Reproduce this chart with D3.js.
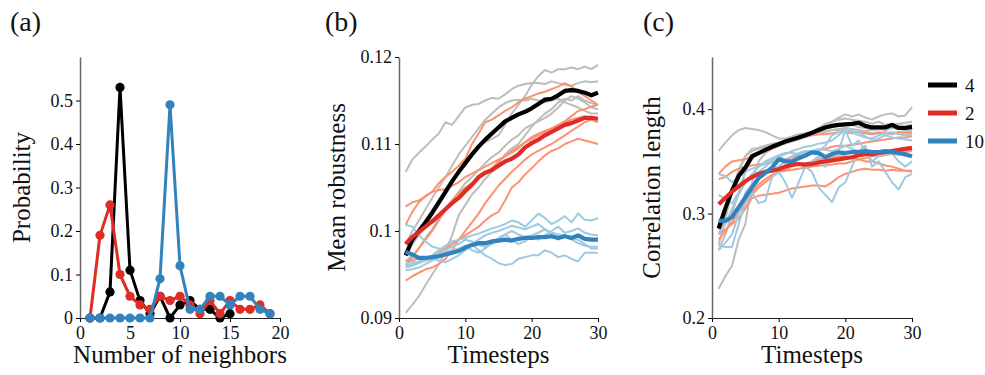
<!DOCTYPE html>
<html>
<head>
<meta charset="utf-8">
<script src="https://cdn.jsdelivr.net/npm/d3@7"></script>
<style>
body { margin: 0; background: #fff; }
text { font-family: "Liberation Serif", "Times New Roman", serif; fill: #111; }
</style>
</head>
<body>
<svg id="fig" width="985" height="375"></svg>
<script>
// ---- data ----
const groups = ["4", "2", "10"];

// (a) degree distribution
const neighbors = d3.range(1, 20);
const prob4  = [0, 0, 0.06, 0.53, 0.11, 0.04, 0.01, 0.05, 0, 0.03, 0.04, 0.02, 0.02, 0, 0.01];
const prob2  = [0, 0.19, 0.26, 0.10, 0.05, 0.03, 0.02, 0.05, 0.04, 0.05, 0.03, 0.01, 0.04, 0.01, 0.04, 0.02, 0.02, 0.03, 0.01];
const prob10 = [0, 0, 0, 0, 0, 0, 0, 0.09, 0.49, 0.12, 0.02, 0.02, 0.05, 0.05, 0.03, 0.05, 0.05, 0.02, 0.01];

const timesteps = d3.range(1, 31);

// (b) mean robustness, means
const rob4  = [0.0972,0.0990,0.1000,0.1010,0.1021,0.1033,0.1045,0.1057,0.1068,0.1078,0.1088,0.1097,0.1105,0.1112,0.1119,0.1126,0.1130,0.1134,0.1137,0.1141,0.1146,0.1151,0.1152,0.1156,0.1161,0.1162,0.1161,0.1159,0.1156,0.1159];
const rob2  = [0.0985,0.0993,0.0999,0.1005,0.1011,0.1018,0.1025,0.1032,0.1038,0.1046,0.1053,0.1062,0.1067,0.1070,0.1075,0.1080,0.1083,0.1088,0.1096,0.1101,0.1105,0.1110,0.1114,0.1118,0.1122,0.1124,0.1127,0.1130,0.1130,0.1129];
const rob10 = [0.0976,0.0973,0.0969,0.0969,0.0970,0.0971,0.0973,0.0975,0.0977,0.0981,0.0984,0.0986,0.0986,0.0988,0.0989,0.0990,0.0989,0.0991,0.0992,0.0992,0.0993,0.0993,0.0994,0.0992,0.0994,0.0992,0.0995,0.0991,0.0990,0.0990];

// (b) individual runs
const robRuns4 = [
  [0.1068,0.1082,0.1090,0.1097,0.1105,0.1112,0.1125,0.1122,0.1132,0.1142,0.1145,0.1146,0.1150,0.1153,0.1152,0.1157,0.1163,0.1167,0.1169,0.1170,0.1170,0.1169,0.1172,0.1170,0.1168,0.1167,0.1170,0.1172,0.1171,0.1172],
  [0.0975,0.0985,0.0995,0.1005,0.1018,0.1030,0.1042,0.1055,0.1068,0.1080,0.1090,0.1098,0.1102,0.1106,0.1110,0.1122,0.1135,0.1145,0.1155,0.1168,0.1178,0.1185,0.1182,0.1186,0.1186,0.1188,0.1186,0.1189,0.1186,0.1191],
  [0.0906,0.0915,0.0925,0.0938,0.0950,0.0962,0.0976,0.0995,0.1018,0.1030,0.1042,0.1050,0.1060,0.1068,0.1078,0.1088,0.1095,0.1100,0.1110,0.1120,0.1128,0.1135,0.1140,0.1148,0.1152,0.1150,0.1155,0.1150,0.1147,0.1145],
  [0.0985,0.1000,0.1012,0.1025,0.1038,0.1050,0.1062,0.1075,0.1088,0.1098,0.1108,0.1118,0.1128,0.1135,0.1142,0.1147,0.1150,0.1151,0.1150,0.1152,0.1150,0.1148,0.1150,0.1152,0.1148,0.1145,0.1142,0.1138,0.1135,0.1135],
  [0.0965,0.0972,0.0980,0.0992,0.1002,0.1015,0.1025,0.1035,0.1045,0.1055,0.1062,0.1070,0.1078,0.1085,0.1090,0.1098,0.1105,0.1110,0.1118,0.1122,0.1126,0.1130,0.1135,0.1142,0.1150,0.1155,0.1152,0.1148,0.1142,0.1140]
];
const robRuns2 = [
  [0.1028,0.1033,0.1035,0.1040,0.1045,0.1055,0.1062,0.1068,0.1075,0.1083,0.1100,0.1112,0.1125,0.1128,0.1133,0.1138,0.1142,0.1148,0.1152,0.1155,0.1158,0.1160,0.1163,0.1166,0.1170,0.1166,0.1160,0.1155,0.1150,0.1145],
  [0.1007,0.1022,0.1033,0.1040,0.1045,0.1047,0.1048,0.1052,0.1056,0.1062,0.1066,0.1070,0.1074,0.1078,0.1082,0.1086,0.1090,0.1095,0.1102,0.1108,0.1112,0.1115,0.1118,0.1122,0.1125,0.1128,0.1130,0.1132,0.1128,0.1125],
  [0.0960,0.0970,0.0980,0.0990,0.1000,0.1012,0.1024,0.1035,0.1043,0.1050,0.1055,0.1060,0.1066,0.1072,0.1080,0.1086,0.1092,0.1097,0.1102,0.1106,0.1110,0.1114,0.1118,0.1122,0.1126,0.1132,0.1138,0.1140,0.1143,0.1145],
  [0.0943,0.0948,0.0952,0.0956,0.0958,0.0962,0.0968,0.0978,0.0990,0.1000,0.1010,0.1020,0.1032,0.1042,0.1052,0.1060,0.1068,0.1075,0.1082,0.1088,0.1092,0.1096,0.1100,0.1105,0.1110,0.1115,0.1120,0.1125,0.1128,0.1130],
  [0.0965,0.0967,0.0968,0.0969,0.0970,0.0975,0.0980,0.0985,0.0990,0.0995,0.1000,0.1005,0.1012,0.1018,0.1022,0.1035,0.1050,0.1056,0.1065,0.1072,0.1080,0.1087,0.1092,0.1095,0.1100,0.1103,0.1106,0.1104,0.1102,0.1100]
];
const robRuns10 = [
  [0.1007,0.1005,0.0995,0.0988,0.0982,0.0980,0.0978,0.0982,0.0985,0.0990,0.0988,0.0984,0.0982,0.0985,0.0990,0.0996,0.1000,0.0996,0.0993,0.0995,0.0998,0.1002,0.0996,0.0990,0.0995,0.0990,0.0986,0.0983,0.0982,0.0982],
  [0.0960,0.0962,0.0965,0.0968,0.0972,0.0978,0.0983,0.0988,0.0990,0.0992,0.0995,0.0997,0.1000,0.1003,0.1005,0.1008,0.1012,0.1010,0.1005,0.1012,0.1020,0.1015,0.1008,0.1012,0.1017,0.1010,0.1020,0.1013,0.1012,0.1015],
  [0.0955,0.0956,0.0958,0.0962,0.0966,0.0970,0.0972,0.0975,0.0978,0.0982,0.0985,0.0978,0.0972,0.0968,0.0963,0.0961,0.0962,0.0968,0.0970,0.0972,0.0972,0.0978,0.0975,0.0970,0.0972,0.0968,0.0965,0.0975,0.0975,0.0975],
  [0.0958,0.0960,0.0963,0.0966,0.0968,0.0966,0.0964,0.0968,0.0972,0.0978,0.0985,0.0990,0.0995,0.0998,0.1000,0.1003,0.1006,0.1004,0.1002,0.1005,0.1008,0.1002,0.0998,0.0996,0.0995,0.0992,0.0990,0.0985,0.0980,0.0980],
  [0.0962,0.0965,0.0964,0.0966,0.0970,0.0974,0.0976,0.0978,0.0980,0.0983,0.0978,0.0975,0.0980,0.0986,0.0992,0.0996,0.0990,0.0985,0.0988,0.0994,0.0990,0.0995,0.1000,0.1005,0.0998,0.1000,0.1003,0.0998,0.0996,0.0995]
];

// (c) correlation length, means
const corr4  = [0.2857,0.305,0.322,0.336,0.344,0.355,0.358,0.361,0.364,0.3665,0.369,0.371,0.373,0.375,0.3775,0.380,0.3825,0.384,0.385,0.3855,0.386,0.387,0.384,0.3825,0.3825,0.3825,0.385,0.382,0.382,0.383];
const corr2  = [0.309,0.315,0.321,0.326,0.331,0.335,0.338,0.340,0.341,0.3425,0.345,0.347,0.3475,0.347,0.3475,0.349,0.350,0.351,0.352,0.353,0.354,0.356,0.357,0.357,0.358,0.359,0.360,0.361,0.362,0.363];
const corr10 = [0.2933,0.293,0.2965,0.306,0.3155,0.325,0.334,0.339,0.344,0.352,0.350,0.350,0.353,0.3555,0.3587,0.358,0.354,0.357,0.3587,0.358,0.359,0.359,0.360,0.359,0.359,0.360,0.359,0.358,0.3567,0.355];

// (c) individual runs
const corrRuns4 = [
  [0.360,0.368,0.375,0.380,0.382,0.381,0.380,0.378,0.375,0.372,0.372,0.374,0.376,0.377,0.378,0.382,0.386,0.388,0.392,0.395,0.393,0.395,0.392,0.390,0.393,0.395,0.396,0.393,0.394,0.402],
  [0.228,0.240,0.250,0.275,0.290,0.330,0.350,0.358,0.362,0.365,0.368,0.370,0.373,0.375,0.378,0.382,0.385,0.388,0.390,0.391,0.390,0.389,0.388,0.386,0.388,0.385,0.386,0.385,0.384,0.385],
  [0.270,0.295,0.320,0.340,0.355,0.360,0.362,0.364,0.366,0.368,0.370,0.372,0.374,0.376,0.378,0.380,0.382,0.384,0.385,0.386,0.385,0.383,0.382,0.380,0.381,0.383,0.385,0.386,0.387,0.388],
  [0.280,0.300,0.322,0.342,0.355,0.362,0.363,0.365,0.367,0.368,0.370,0.372,0.373,0.375,0.376,0.378,0.379,0.380,0.380,0.380,0.379,0.378,0.378,0.377,0.378,0.377,0.376,0.378,0.377,0.376],
  [0.265,0.280,0.300,0.320,0.340,0.352,0.358,0.362,0.364,0.366,0.367,0.369,0.371,0.373,0.375,0.376,0.378,0.380,0.381,0.382,0.381,0.380,0.379,0.380,0.381,0.380,0.382,0.381,0.380,0.380]
];
const corrRuns2 = [
  [0.338,0.345,0.350,0.351,0.352,0.355,0.358,0.360,0.362,0.365,0.368,0.372,0.373,0.374,0.375,0.376,0.376,0.377,0.378,0.378,0.377,0.378,0.377,0.376,0.377,0.378,0.377,0.378,0.378,0.378],
  [0.333,0.335,0.340,0.343,0.345,0.346,0.347,0.348,0.349,0.350,0.352,0.354,0.356,0.358,0.360,0.361,0.362,0.364,0.365,0.365,0.366,0.367,0.368,0.369,0.370,0.371,0.372,0.373,0.373,0.374],
  [0.275,0.283,0.292,0.300,0.310,0.318,0.325,0.330,0.335,0.340,0.342,0.345,0.347,0.348,0.350,0.352,0.353,0.354,0.355,0.355,0.353,0.352,0.350,0.350,0.348,0.346,0.345,0.343,0.341,0.340],
  [0.280,0.285,0.290,0.295,0.305,0.315,0.317,0.318,0.319,0.320,0.322,0.324,0.325,0.326,0.327,0.327,0.326,0.330,0.335,0.338,0.340,0.342,0.343,0.342,0.342,0.341,0.342,0.341,0.341,0.341],
  [0.285,0.292,0.300,0.306,0.312,0.320,0.328,0.333,0.337,0.340,0.341,0.342,0.343,0.344,0.345,0.346,0.346,0.347,0.348,0.348,0.350,0.352,0.353,0.355,0.355,0.356,0.357,0.358,0.359,0.360]
];
const corrRuns10 = [
  [0.338,0.336,0.330,0.335,0.340,0.343,0.345,0.348,0.352,0.355,0.357,0.360,0.362,0.364,0.365,0.367,0.368,0.370,0.375,0.380,0.378,0.375,0.373,0.372,0.375,0.377,0.378,0.376,0.375,0.375],
  [0.318,0.314,0.310,0.320,0.330,0.335,0.340,0.345,0.350,0.355,0.352,0.350,0.347,0.345,0.340,0.325,0.318,0.311,0.325,0.330,0.345,0.360,0.365,0.345,0.350,0.340,0.330,0.323,0.335,0.338],
  [0.270,0.268,0.268,0.290,0.310,0.320,0.310,0.312,0.335,0.340,0.330,0.315,0.330,0.345,0.350,0.355,0.345,0.355,0.360,0.380,0.365,0.370,0.360,0.350,0.355,0.360,0.358,0.350,0.345,0.350],
  [0.265,0.272,0.280,0.300,0.320,0.328,0.335,0.340,0.343,0.345,0.350,0.355,0.358,0.360,0.360,0.360,0.365,0.375,0.378,0.380,0.379,0.378,0.374,0.370,0.372,0.375,0.373,0.372,0.371,0.370],
  [0.280,0.290,0.305,0.318,0.330,0.338,0.345,0.350,0.353,0.356,0.358,0.358,0.357,0.358,0.360,0.362,0.361,0.360,0.362,0.365,0.362,0.360,0.358,0.356,0.355,0.357,0.358,0.356,0.360,0.362]
];

// ---- styles ----
const dark  = { "4": "#000000", "2": "#de2d26", "10": "#3182bd" };
const light = { "4": "#bdbdbd", "2": "#fc9272", "10": "#9ecae1" };

const svg = d3.select("#fig");
const plotTop = 57, plotBottom = 318;

function drawAxes(g, x, y, xTicks, yTicks, yFmt, xLabel, yLabel, yLabelX) {
	g.append("g").attr("transform", "translate(0," + plotBottom + ")")
		.call(d3.axisBottom(x).tickValues(xTicks).tickSize(4).tickPadding(4).tickSizeOuter(0))
		.call(a => a.select(".domain").attr("stroke", "#222"))
		.call(a => a.selectAll("text").style("font-size", "18px").style("font-family", "Liberation Serif"));
	g.append("g").attr("transform", "translate(" + x.range()[0] + ",0)")
		.call(d3.axisLeft(y).tickValues(yTicks).tickFormat(yFmt).tickSize(4).tickPadding(3).tickSizeOuter(0))
		.call(a => a.select(".domain").attr("stroke", "#666").attr("stroke-width", 1.5))
		.call(a => a.selectAll("text").style("font-size", "18px").style("font-family", "Liberation Serif"));
	g.append("text").attr("x", (x.range()[0] + x.range()[1]) / 2).attr("y", 363)
		.attr("text-anchor", "middle").style("font-size", "25px").text(xLabel);
	g.append("text").attr("transform", "translate(" + yLabelX + "," + (plotTop + plotBottom) / 2 + ") rotate(-90)")
		.attr("text-anchor", "middle").style("font-size", "25px").text(yLabel);
}

function panelLetter(x, s) {
	svg.append("text").attr("x", x).attr("y", 31).style("font-size", "28px").text(s);
}

// ---- (a) ----
const xa = d3.scaleLinear().domain([0, 20]).range([80, 280]);
const ya = d3.scaleLinear().domain([0, 0.6]).range([plotBottom, plotTop]);
const ga = svg.append("g");
drawAxes(ga, xa, ya, [0, 5, 10, 15, 20], [0, 0.1, 0.2, 0.3, 0.4, 0.5], d => d === 0 ? "0" : d3.format(".1f")(d),
	"Number of neighbors", "Probability", 30);
panelLetter(10, "(a)");

const distData = { "4": prob4, "2": prob2, "10": prob10 };
const lineA = d3.line().x((d, i) => xa(neighbors[i])).y(d => ya(d));
groups.forEach(k => {
	ga.append("path").datum(distData[k]).attr("d", lineA)
		.attr("fill", "none").attr("stroke", dark[k]).attr("stroke-width", 3).attr("stroke-linejoin", "round");
	ga.selectAll(null).data(distData[k]).enter().append("circle")
		.attr("cx", (d, i) => xa(neighbors[i])).attr("cy", d => ya(d)).attr("r", 4.6)
		.attr("fill", dark[k]);
});

// ---- (b) and (c) ----
function timePanel(x0, x1, domain, yTicks, yFmt, yLabel, yLabelX, runs, means) {
	const x = d3.scaleLinear().domain([0, 30]).range([x0, x1]);
	const y = d3.scaleLinear().domain(domain).range([plotBottom, plotTop]);
	const g = svg.append("g");
	drawAxes(g, x, y, [0, 10, 20, 30], yTicks, yFmt, "Timesteps", yLabel, yLabelX);
	const line = d3.line().x((d, i) => x(timesteps[i])).y(d => y(d));
	groups.forEach(k => {
		runs[k].forEach(r => {
			g.append("path").datum(r).attr("d", line).attr("fill", "none")
				.attr("stroke", light[k]).attr("stroke-width", 2).attr("stroke-linejoin", "round");
		});
	});
	groups.forEach(k => {
		g.append("path").datum(means[k]).attr("d", line).attr("fill", "none")
			.attr("stroke", dark[k]).attr("stroke-width", 4.2).attr("stroke-linejoin", "round");
	});
	return g;
}

timePanel(399, 598, [0.09, 0.12], [0.09, 0.1, 0.11, 0.12], d => d3.format("")(+d.toFixed(2)),
	"Mean robustness", 345,
	{ "4": robRuns4, "2": robRuns2, "10": robRuns10 },
	{ "4": rob4, "2": rob2, "10": rob10 });
panelLetter(325, "(b)");

timePanel(712, 912, [0.2, 0.45], [0.2, 0.3, 0.4], d3.format(".1f"),
	"Correlation length", 660,
	{ "4": corrRuns4, "2": corrRuns2, "10": corrRuns10 },
	{ "4": corr4, "2": corr2, "10": corr10 });
panelLetter(643, "(c)");

// legend
const leg = svg.append("g").attr("transform", "translate(928,85)");
groups.forEach((k, i) => {
	leg.append("line").attr("x1", 0).attr("x2", 29).attr("y1", i * 28).attr("y2", i * 28)
		.attr("stroke", dark[k]).attr("stroke-width", 5);
	leg.append("text").attr("x", 37).attr("y", i * 28 + 7).style("font-size", "19px").text(k);
});
</script>
</body>
</html>
